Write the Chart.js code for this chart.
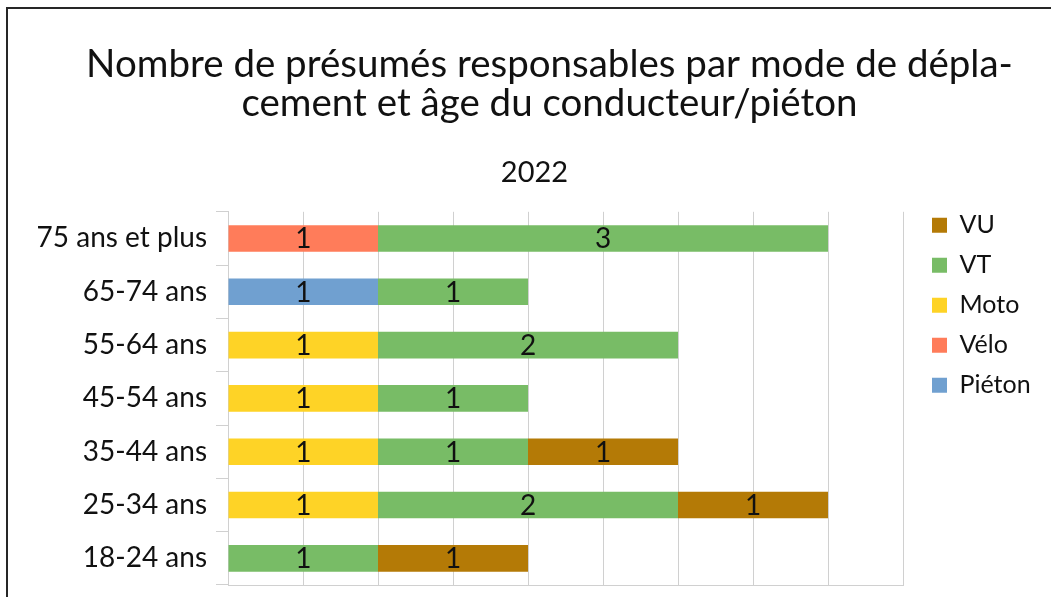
<!DOCTYPE html>
<html>
<head>
<meta charset="utf-8">
<script src="https://cdn.jsdelivr.net/npm/chart.js@4/dist/chart.umd.min.js"></script>
<style>
  html, body { margin: 0; padding: 0; background: #fff; }
  #wrap { position: relative; width: 1051px; height: 597px; overflow: hidden; }
  #frame { position: absolute; left: 6px; top: 7px; width: 1200px; height: 800px; border: 2px solid #262626; pointer-events: none; box-sizing: border-box; }
  canvas { position: absolute; left: 0; top: 0; }
</style>
</head>
<body>
<div id="wrap">
  <canvas id="c" width="1051" height="597"></canvas>
  <div id="frame"></div>
</div>
<script>
const categories = ['75 ans et plus', '65-74 ans', '55-64 ans', '45-54 ans', '35-44 ans', '25-34 ans', '18-24 ans'];
const pieton = [null, 1, null, null, null, null, null];
const velo   = [1, null, null, null, null, null, null];
const moto   = [null, null, 1, 1, 1, 1, null];
const vt     = [3, 1, 2, 1, 1, 2, 1];
const vu     = [null, null, null, null, 1, 1, 1];
const titleLines = ['Nombre de présumés responsables par mode de dépla-', 'cement et âge du conducteur/piéton'];
const subtitleText = '2022';

const FONT = 'Lato, "Open Sans", sans-serif';

const valueLabels = {
  id: 'valueLabels',
  afterDatasetsDraw(chart) {
    const ctx = chart.ctx;
    ctx.save();
    ctx.font = '28px ' + FONT;
    ctx.fillStyle = '#111';
    ctx.textAlign = 'center';
    ctx.textBaseline = 'middle';
    chart.data.datasets.forEach((ds, i) => {
      const meta = chart.getDatasetMeta(i);
      meta.data.forEach((el, j) => {
        const v = ds.data[j];
        if (v === null || v === undefined) return;
        const p = el.getCenterPoint();
        ctx.fillText(String(v), p.x, p.y + 1);
      });
    });
    ctx.restore();
  }
};

const layoutTweak = {
  id: 'layoutTweak',
  afterInit(chart) {
    const lg = chart.legend;
    const orig = lg.fit;
    lg.fit = function () { orig.call(this); this.width = 138; };
  },
  afterLayout(chart) {
    const lg = chart.legend;
    const ca = chart.chartArea;
    lg.left = ca.right + 14; lg.right = lg.left + 138;
    lg.top = ca.top - 14; lg.bottom = ca.bottom;
    // let the long category labels use the space left of the axis box
    chart.scales.y.left = 0;
    // centre the subtitle slightly left of the title, as in the original
    chart.boxes.forEach(b => {
      if (b !== chart.titleBlock && b.options && b.options.text === subtitleText) {
        b.left -= 15; b.right -= 15;
      }
    });
  }
};

new Chart(document.getElementById('c'), {
  type: 'bar',
  data: {
    labels: categories,
    datasets: [
      { label: 'Piéton', data: pieton, backgroundColor: '#70a0d0' },
      { label: 'Vélo', data: velo, backgroundColor: '#ff7c5a' },
      { label: 'Moto', data: moto, backgroundColor: '#fed326' },
      { label: 'VT', data: vt, backgroundColor: '#78bc66' },
      { label: 'VU', data: vu, backgroundColor: '#b47a06' }
    ]
  },
  options: {
    indexAxis: 'y',
    responsive: false,
    animation: false,
    devicePixelRatio: 1,
    layout: { padding: { left: 58, right: 10, top: 0, bottom: 12 } },
    datasets: { bar: { barPercentage: 0.5, categoryPercentage: 1.0, borderWidth: 0 } },
    scales: {
      x: {
        stacked: true,
        min: 0, max: 4.5,
        afterFit(s) { s.height = 0; s.paddingLeft = 0; s.paddingRight = 0; },
        ticks: { display: false, stepSize: 0.5 },
        grid: { color: '#d0d0d0', lineWidth: 1, drawTicks: false },
        border: { display: true, color: '#d0d0d0' }
      },
      y: {
        stacked: true,
        afterFit(s) { s.width = 170; s.paddingTop = 0; s.paddingBottom = 0; },
        ticks: { color: '#111', font: { family: FONT, size: 28 }, padding: 9 },
        grid: { drawOnChartArea: false, color: '#d0d0d0', tickLength: 12, offset: true },
        border: { display: true, color: '#d0d0d0' }
      }
    },
    plugins: {
      title: {
        display: true,
        text: titleLines,
        color: '#111',
        font: { family: FONT, size: 38.5, weight: 'normal', lineHeight: 1.013 },
        padding: { top: 45, bottom: 0 }
      },
      subtitle: {
        display: true,
        text: subtitleText,
        color: '#111',
        font: { family: FONT, size: 29, weight: 'normal', lineHeight: 1.2 },
        padding: { top: 32, bottom: 22 }
      },
      legend: {
        display: true,
        position: 'right',
        align: 'start',
        fullSize: false,
        reverse: true,
        labels: {
          color: '#111',
          boxWidth: 15, boxHeight: 15,
          padding: 15,
          font: { family: FONT, size: 25 }
        }
      },
      tooltip: { enabled: false }
    }
  },
  plugins: [valueLabels, layoutTweak]
});
</script>
</body>
</html>
